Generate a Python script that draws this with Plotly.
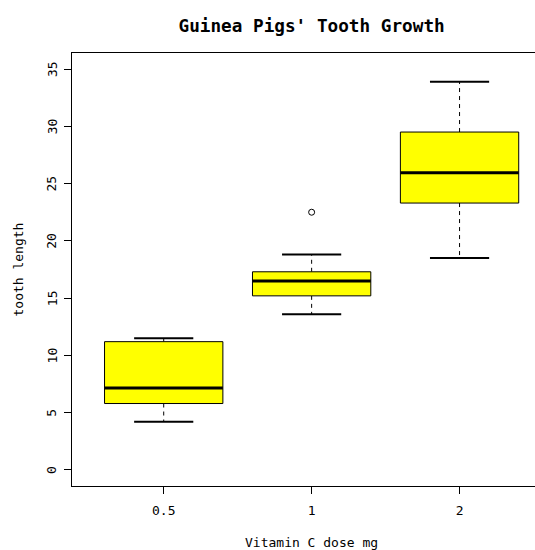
import plotly.graph_objects as go

# Data (ToothGrowth, Vitamin C supplement) - box statistics per dose
doses = ["0.5", "1", "2"]
positions = [1, 2, 3]
lower_whisker = [4.2, 13.6, 18.5]
q1 = [5.8, 15.2, 23.3]
median = [7.15, 16.5, 25.95]
q3 = [11.2, 17.3, 29.5]
upper_whisker = [11.5, 18.8, 33.9]
outlier_pos = [2]
outlier_val = [22.5]
y_ticks = [0, 5, 10, 15, 20, 25, 30, 35]

BOXW = 0.4   # half box width
CAPW = 0.2   # half staple width
FONT = "DejaVu Sans Mono"

fig = go.Figure()

for i, c in enumerate(positions):
    # whiskers (dashed)
    fig.add_trace(go.Scatter(
        x=[c, c, None, c, c],
        y=[q3[i], upper_whisker[i], None, q1[i], lower_whisker[i]],
        mode="lines", line=dict(color="black", width=1, dash="4px,4px"),
        hoverinfo="skip", showlegend=False))
    # staples
    fig.add_trace(go.Scatter(
        x=[c - CAPW, c + CAPW, None, c - CAPW, c + CAPW],
        y=[upper_whisker[i], upper_whisker[i], None, lower_whisker[i], lower_whisker[i]],
        mode="lines", line=dict(color="black", width=2),
        hoverinfo="skip", showlegend=False))
    # box
    fig.add_trace(go.Scatter(
        x=[c - BOXW, c + BOXW, c + BOXW, c - BOXW, c - BOXW],
        y=[q1[i], q1[i], q3[i], q3[i], q1[i]],
        mode="lines", fill="toself", fillcolor="yellow",
        line=dict(color="black", width=1),
        hoverinfo="skip", showlegend=False))
    # median
    fig.add_trace(go.Scatter(
        x=[c - BOXW, c + BOXW], y=[median[i], median[i]],
        mode="lines", line=dict(color="black", width=3),
        hoverinfo="skip", showlegend=False))

fig.add_trace(go.Scatter(
    x=outlier_pos, y=outlier_val, mode="markers",
    marker=dict(symbol="circle-open", size=6, color="black", line=dict(width=1)),
    hoverinfo="skip", showlegend=False))

# rotated y tick labels (R style), placed on the y axis scale
ytick_annotations = [
    dict(text=str(v), x=0, xref="paper", y=v, yref="y", xshift=-20,
         xanchor="center", yanchor="middle", textangle=-90, showarrow=False,
         font=dict(family=FONT, size=13))
    for v in y_ticks
]

fig.update_layout(
    width=535, height=550,
    margin=dict(l=72, r=0, t=53, b=64),
    plot_bgcolor="white", paper_bgcolor="white",
    font=dict(family=FONT, size=13, color="black"),
    title=dict(text="<b>Guinea Pigs' Tooth Growth</b>",
               font=dict(family=FONT, size=17.7, color="black"),
               x=0.5175, xref="paper", xanchor="center",
               y=1 - 26 / 550, yref="container", yanchor="middle"),
    xaxis=dict(range=[0.38, 3.51], tickmode="array", tickvals=positions, ticktext=doses,
               showgrid=False, zeroline=False, showline=True, linecolor="black", linewidth=1,
               mirror=True, ticks="outside", ticklen=7, tickcolor="black",
               ticklabelstandoff=5, tickfont=dict(size=13)),
    yaxis=dict(range=[-1.4, 36.4], tickmode="array", tickvals=y_ticks,
               showgrid=False, zeroline=False, showline=True, linecolor="black", linewidth=1,
               ticks="outside", ticklen=7, tickcolor="black", showticklabels=False),
    annotations=ytick_annotations + [
        dict(text="Vitamin C dose mg", x=2.0, xref="x", y=-0.13, yref="paper",
             xanchor="center", yanchor="middle", showarrow=False,
             font=dict(family=FONT, size=13)),
        dict(text="tooth length", x=(18 - 72) / 463, xref="paper", y=0.5, yref="paper",
             xanchor="center", yanchor="middle", textangle=-90, showarrow=False,
             font=dict(family=FONT, size=13)),
    ],
)

fig.write_html("out.html")
